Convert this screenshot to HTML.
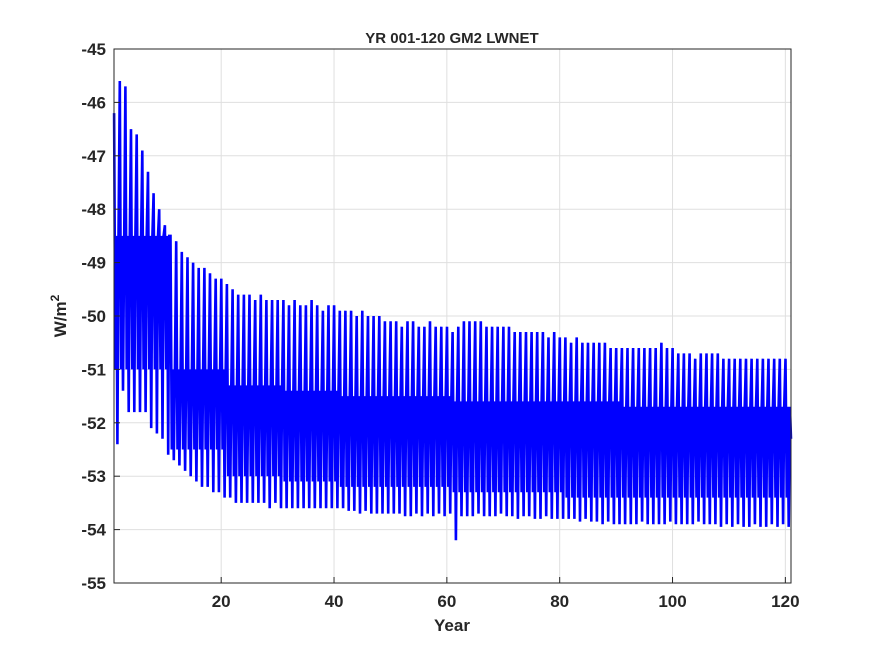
<!DOCTYPE html>
<html><head><meta charset="utf-8"><style>
body{margin:0;background:#fff}
svg text{font-family:"Liberation Sans",sans-serif;font-weight:bold;fill:#262626}
</style></head><body>
<svg id="chart" width="875" height="656" viewBox="0 0 875 656" xmlns="http://www.w3.org/2000/svg">
<rect width="875" height="656" fill="#fff"/>
<g id="grid"></g>
<g id="series"></g>
<rect x="114" y="49" width="677" height="534" fill="none" stroke="#262626" stroke-width="1"/>
<g id="ticks"></g>
<text x="452" y="43" font-size="15" text-anchor="middle">YR 001-120 GM2 LWNET</text>
<text x="452" y="631" font-size="17" text-anchor="middle">Year</text>
<text transform="translate(66,316) rotate(-90)" font-size="17" text-anchor="middle">W/m<tspan font-size="12" dy="-7">2</tspan></text>
</svg>
<script>
const yTicks=[-45,-46,-47,-48,-49,-50,-51,-52,-53,-54,-55];
const xTicks=[20,40,60,80,100,120];
const yearMax=[-46.2,-45.6,-45.7,-46.5,-46.6,-46.9,-47.3,-47.7,-48.0,-48.3,
-48.5,-48.6,-48.8,-48.9,-49.0,-49.1,-49.1,-49.2,-49.3,-49.3,
-49.4,-49.5,-49.6,-49.6,-49.6,-49.7,-49.6,-49.7,-49.7,-49.7,
-49.7,-49.8,-49.7,-49.8,-49.8,-49.7,-49.8,-49.9,-49.8,-49.8,
-49.9,-49.9,-49.9,-50.0,-49.9,-50.0,-50.0,-50.0,-50.1,-50.1,
-50.1,-50.2,-50.1,-50.1,-50.2,-50.2,-50.1,-50.2,-50.2,-50.2,
-50.3,-50.2,-50.1,-50.1,-50.1,-50.1,-50.2,-50.2,-50.2,-50.2,
-50.2,-50.3,-50.3,-50.3,-50.3,-50.3,-50.3,-50.4,-50.3,-50.4,
-50.4,-50.5,-50.4,-50.5,-50.5,-50.5,-50.5,-50.5,-50.6,-50.6,
-50.6,-50.6,-50.6,-50.6,-50.6,-50.6,-50.6,-50.5,-50.6,-50.6,
-50.7,-50.7,-50.7,-50.8,-50.7,-50.7,-50.7,-50.7,-50.8,-50.8,
-50.8,-50.8,-50.8,-50.8,-50.8,-50.8,-50.8,-50.8,-50.8,-50.8];
const yearMin=[-52.4,-51.4,-51.8,-51.8,-51.8,-51.8,-52.1,-52.2,-52.3,-52.6,
-52.7,-52.8,-52.9,-53.0,-53.1,-53.2,-53.2,-53.3,-53.3,-53.4,
-53.4,-53.5,-53.5,-53.5,-53.5,-53.5,-53.5,-53.6,-53.5,-53.6,
-53.6,-53.6,-53.6,-53.6,-53.6,-53.6,-53.6,-53.6,-53.6,-53.6,
-53.6,-53.65,-53.65,-53.7,-53.65,-53.7,-53.7,-53.7,-53.7,-53.7,
-53.7,-53.75,-53.75,-53.7,-53.75,-53.7,-53.75,-53.7,-53.75,-53.7,
-54.2,-53.75,-53.75,-53.75,-53.7,-53.75,-53.75,-53.75,-53.7,-53.75,
-53.75,-53.8,-53.75,-53.75,-53.8,-53.8,-53.75,-53.8,-53.8,-53.8,
-53.8,-53.8,-53.85,-53.8,-53.85,-53.85,-53.9,-53.85,-53.9,-53.9,
-53.9,-53.9,-53.9,-53.85,-53.9,-53.9,-53.9,-53.9,-53.85,-53.9,
-53.9,-53.9,-53.9,-53.85,-53.9,-53.9,-53.9,-53.95,-53.9,-53.95,
-53.9,-53.95,-53.95,-53.9,-53.95,-53.95,-53.9,-53.95,-53.9,-53.95];
const bodyHi=[-48.5,-51.0,-51.3,-51.4,-51.5,-51.5,-51.6,-51.6,-51.6,-51.7,-51.7,-51.7];
const bodyLo=[-51.0,-52.5,-53.0,-53.1,-53.2,-53.2,-53.3,-53.3,-53.4,-53.4,-53.4,-53.4];
const endValue=-52.3;

const X0=114,X1=791,Y0=49,Y1=583,xmin=1,xmax=121,ymin=-55,ymax=-45;
const sx=v=>X0+(v-xmin)/(xmax-xmin)*(X1-X0);
const sy=v=>Y1-(v-ymin)/(ymax-ymin)*(Y1-Y0);
const NS="http://www.w3.org/2000/svg";
const grid=document.getElementById('grid'),ticks=document.getElementById('ticks'),series=document.getElementById('series');
function mk(tag,attrs,parent){const e=document.createElementNS(NS,tag);for(const k in attrs)e.setAttribute(k,attrs[k]);parent.appendChild(e);return e;}
yTicks.forEach(v=>{
  const g=mk('line',{x1:X0,x2:X1,y1:sy(v),y2:sy(v),stroke:'#dfdfdf','stroke-width':1},grid);
  
  
  const t=mk('line',{x1:X0,x2:X0+6,y1:sy(v),y2:sy(v),stroke:'#262626'},ticks);
  
  
  const l=mk('text',{x:X0-8,y:sy(v)+6,'font-size':17,'text-anchor':'end'},ticks);
  l.textContent=String(v).replace('-','-');
  
  
});
xTicks.forEach(v=>{
  const g=mk('line',{x1:sx(v),x2:sx(v),y1:Y0,y2:Y1,stroke:'#dfdfdf','stroke-width':1},grid);
  
  
  const t=mk('line',{x1:sx(v),x2:sx(v),y1:Y1,y2:Y1-6,stroke:'#262626'},ticks);
  
  
  const l=mk('text',{x:sx(v),y:Y1+24,'font-size':17,'text-anchor':'middle'},ticks);
  l.textContent=v;
  
  
});
let pts=[];
for(let i=0;i<yearMax.length;i++){
  const yr=1+i,d=Math.min(bodyHi.length-1,Math.floor(i/10));
  pts.push([yr+0.02,yearMax[i]],[yr+0.25,bodyLo[d]],[yr+0.42,bodyHi[d]],[yr+0.6,yearMin[i]],[yr+0.8,bodyHi[d]]);
}
pts.push([121,endValue]);
const p=mk('path',{d:'M'+pts.map(q=>sx(q[0]).toFixed(1)+','+sy(q[1]).toFixed(1)).join('L'),fill:'none',stroke:'#0000ff','stroke-width':2.6,'stroke-linejoin':'miter','stroke-miterlimit':3},series);


</script>
</body></html>
